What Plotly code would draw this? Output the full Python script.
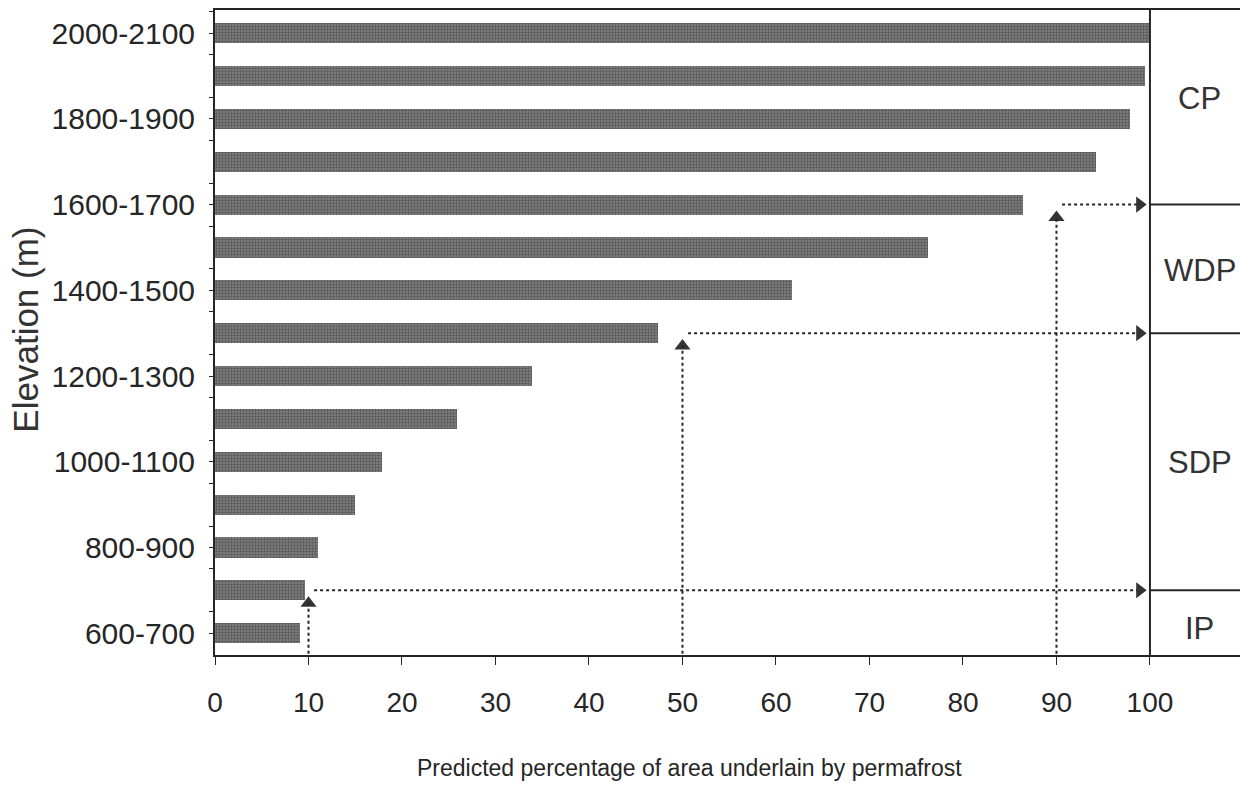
import plotly.graph_objects as go

# Elevation bands (bottom to top) and predicted permafrost coverage (%)
elevation_bands = [
    "600-700", "700-800", "800-900", "900-1000", "1000-1100",
    "1100-1200", "1200-1300", "1300-1400", "1400-1500", "1500-1600",
    "1600-1700", "1700-1800", "1800-1900", "1900-2000", "2000-2100",
]
permafrost_pct = [9.1, 9.6, 11.0, 15.0, 17.9, 25.9, 33.9, 47.4, 61.7, 76.3,
                  86.4, 94.2, 97.9, 99.5, 100.0]

x_ticks = [0, 10, 20, 30, 40, 50, 60, 70, 80, 90, 100]

# Permafrost zones: label, vertical label position, boundary band positions
# and the coverage threshold (%) that leads to each boundary
zone_labels = ["IP", "SDP", "WDP", "CP"]
zone_label_pos = [0.12, 3.99, 8.47, 12.48]
zone_boundaries = [1, 7, 10]
zone_thresholds = [10, 50, 90]

X_MAX = 109.63
Y_MIN, Y_MAX = -0.51, 14.54
INK = "#262626"
FONT = "Liberation Sans, Arial, sans-serif"

positions = list(range(len(elevation_bands)))

fig = go.Figure()
fig.add_trace(go.Bar(
    x=permafrost_pct,
    y=positions,
    orientation="h",
    width=0.47,
    marker=dict(
        color="#7e7e7e",
        line=dict(width=0),
        pattern=dict(shape=".", fgcolor="#2e2e2e", bgcolor="#848484",
                     size=3, solidity=0.5),
    ),
    hovertext=elevation_bands,
    showlegend=False,
))

shapes = []
# divider between chart and zone column
shapes.append(dict(type="line", xref="x", yref="y", x0=100, x1=100,
                   y0=Y_MIN, y1=Y_MAX, line=dict(color=INK, width=2)))
for yb, thr in zip(zone_boundaries, zone_thresholds):
    # zone boundary in the right-hand column
    shapes.append(dict(type="line", xref="x", yref="y", x0=100, x1=X_MAX,
                       y0=yb, y1=yb, line=dict(color=INK, width=2)))
    # dotted guide: up from the threshold, then across to the zone column
    shapes.append(dict(type="line", xref="x", yref="y", x0=thr, x1=thr,
                       y0=Y_MIN - 0.25, y1=yb - 0.25,
                       line=dict(color=INK, width=2, dash="dot")))
    shapes.append(dict(type="line", xref="x", yref="y", x0=thr + 0.6, x1=98.6,
                       y0=yb, y1=yb, line=dict(color=INK, width=2, dash="dot")))

# arrow heads
fig.add_trace(go.Scatter(
    x=zone_thresholds, y=[b - 0.3 for b in zone_boundaries], mode="markers",
    marker=dict(symbol="triangle-up", size=14, color="#333333"),
    showlegend=False, hoverinfo="skip", cliponaxis=False))
fig.add_trace(go.Scatter(
    x=[98.9] * len(zone_boundaries), y=zone_boundaries, mode="markers",
    marker=dict(symbol="triangle-right", size=14, color="#333333"),
    showlegend=False, hoverinfo="skip"))

annotations = []
for lab, yp in zip(zone_labels, zone_label_pos):
    annotations.append(dict(x=105.3, y=yp, xref="x", yref="y", text=lab,
                            showarrow=False,
                            font=dict(family=FONT, size=31, color="#333333")))
annotations.append(dict(x=50.8, y=-0.175, xref="x", yref="paper",
                        text="Predicted percentage of area underlain by permafrost",
                        showarrow=False, xanchor="center", yanchor="middle",
                        font=dict(family=FONT, size=23, color=INK)))
annotations.append(dict(x=-0.185, y=0.505, xref="paper", yref="paper",
                        text="Elevation (m)", textangle=-90, showarrow=False,
                        xanchor="center", yanchor="middle",
                        font=dict(family=FONT, size=35, color="#333333")))

fig.update_layout(
    width=1240, height=791,
    margin=dict(l=215, r=0, t=10, b=136),
    paper_bgcolor="white", plot_bgcolor="white",
    bargap=0,
    shapes=shapes,
    annotations=annotations,
    xaxis=dict(
        range=[0, X_MAX], tickmode="array", tickvals=x_ticks,
        ticktext=[str(v) for v in x_ticks],
        showline=True, linecolor=INK, linewidth=2, mirror=True,
        ticks="outside", ticklen=8, tickcolor=INK, tickwidth=1,
        ticklabelstandoff=13,
        showgrid=False, zeroline=False,
        tickfont=dict(family=FONT, size=28, color=INK),
    ),
    yaxis=dict(
        range=[Y_MIN, Y_MAX], tickmode="array",
        tickvals=positions[::2], ticktext=elevation_bands[::2],
        showline=True, linecolor=INK, linewidth=2,
        ticks="outside", ticklen=4, tickcolor=INK, tickwidth=1,
        minor=dict(tickmode="array", tickvals=[p + 0.5 for p in positions],
                   ticks="outside", ticklen=4, tickcolor=INK),
        ticklabelstandoff=8,
        showgrid=False, zeroline=False,
        tickfont=dict(family=FONT, size=30, color=INK),
    ),
)

fig.write_html("out.html")
